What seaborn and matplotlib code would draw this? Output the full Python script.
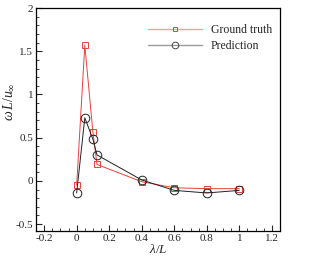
import numpy as np
import pandas as pd
import matplotlib
matplotlib.use("Agg")
import matplotlib.pyplot as plt
import seaborn as sns
from matplotlib.lines import Line2D
from matplotlib.ticker import MultipleLocator

# values
lam = [0.0, 0.05, 0.1, 0.125, 0.4, 0.6, 0.8, 1.0]
ground_truth = [-0.05, 1.57, 0.56, 0.19, -0.01, -0.08, -0.09, -0.09]
prediction = [-0.14, 0.73, 0.48, 0.30, 0.01, -0.11, -0.14, -0.11]

sns.set_style("ticks")
plt.rcParams["font.family"] = ["Liberation Serif", "DejaVu Serif"]
plt.rcParams["mathtext.fontset"] = "custom"
plt.rcParams["mathtext.rm"] = "Liberation Serif"
plt.rcParams["mathtext.it"] = "Liberation Serif:italic"
plt.rcParams["font.size"] = 8

fig = plt.figure(figsize=(3.14, 2.59), dpi=100)
ax = fig.add_axes([36 / 314, 1 - 231 / 259, 244 / 314, 223 / 259])

df_gt = pd.DataFrame({"x": lam, "y": ground_truth})
df_pr = pd.DataFrame({"x": lam, "y": prediction})

red = "#e8413a"
dark = "#222222"
sns.lineplot(data=df_gt, x="x", y="y", ax=ax, color=red, lw=0.7,
             marker="s", markersize=4.2, markerfacecolor="none",
             markeredgecolor=red, markeredgewidth=0.7, legend=False)
sns.lineplot(data=df_pr, x="x", y="y", ax=ax, color=dark, lw=0.7,
             marker="o", markersize=6.2, markerfacecolor="none",
             markeredgecolor=dark, markeredgewidth=0.7, legend=False)

ax.set_xlim(-0.25, 1.25)
ax.set_ylim(-0.58, 2.0)
ax.xaxis.set_major_locator(MultipleLocator(0.2))
ax.xaxis.set_minor_locator(MultipleLocator(0.05))
ax.yaxis.set_major_locator(MultipleLocator(0.5))
ax.yaxis.set_minor_locator(MultipleLocator(0.1))
ax.xaxis.set_major_formatter(plt.FuncFormatter(lambda v, p: f"{v:g}"))
ax.yaxis.set_major_formatter(plt.FuncFormatter(lambda v, p: f"{v:g}"))

ax.tick_params(which="major", direction="in", length=4, width=0.8, labelsize=8, pad=2)
ax.tick_params(which="minor", direction="in", length=2, width=0.6)
for s in ax.spines.values():
    s.set_linewidth(0.9)
    s.set_color("black")

ax.set_xlabel(r"$\lambda/L$", fontsize=9.5, labelpad=0)
ax.set_ylabel(r"$\omega\, L/u_\infty$", fontsize=10, labelpad=2)
ax.yaxis.set_label_coords(-0.08, 0.58)

handles = [
    Line2D([], [], color="#f2a0a0", lw=1.0, marker="s", markersize=3.5,
           markerfacecolor="none", markeredgecolor=red, markeredgewidth=0.7),
    Line2D([], [], color="#9a9a9a", lw=1.0, marker="o", markersize=4.8,
           markerfacecolor="none", markeredgecolor="#444444", markeredgewidth=0.7),
]
ax.legend(handles, ["Ground truth", "Prediction"], loc="upper right", frameon=False,
          fontsize=8.5, handlelength=4.6, handletextpad=0.7, labelspacing=0.3,
          bbox_to_anchor=(1.01, 0.975))

fig.savefig("out.png", dpi=100)
